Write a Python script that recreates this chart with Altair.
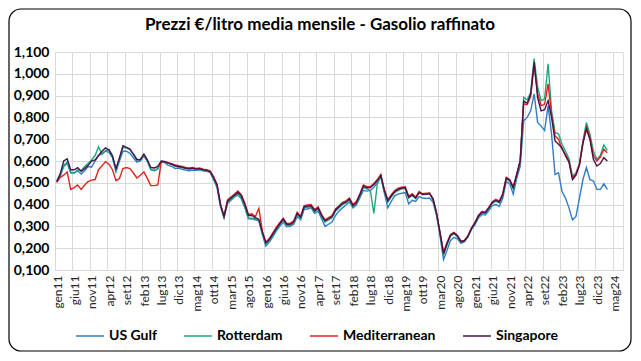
import altair as alt
import pandas as pd

# ---- data: monthly averages (EUR/litre), gen11 .. mar24 ----
us_gulf = [
    0.505,0.530,0.575,0.590,0.545,0.545,0.555,0.540,0.555,0.575,0.572,0.600,
    0.625,0.635,0.645,0.640,0.615,0.550,0.600,0.645,0.645,0.635,0.615,0.595,
    0.600,0.622,0.598,0.560,0.555,0.563,0.595,0.592,0.580,0.575,0.565,0.568,
    0.562,0.558,0.555,0.558,0.557,0.560,0.555,0.553,0.548,0.515,0.478,0.390,
    0.340,0.405,0.420,0.435,0.445,0.425,0.385,0.335,0.335,0.330,0.325,0.262,
    0.210,0.228,0.252,0.278,0.300,0.320,0.298,0.300,0.310,0.345,0.330,0.378,
    0.380,0.385,0.360,0.370,0.335,0.300,0.310,0.320,0.350,0.370,0.385,0.398,
    0.412,0.385,0.398,0.432,0.465,0.462,0.465,0.480,0.500,0.528,0.455,0.385,
    0.415,0.440,0.448,0.452,0.455,0.403,0.420,0.415,0.437,0.430,0.428,0.430,
    0.410,0.350,0.255,0.148,0.190,0.235,0.250,0.243,0.222,0.230,0.252,0.285,
    0.308,0.338,0.355,0.352,0.372,0.395,0.400,0.392,0.430,0.505,0.495,0.448,
    0.520,0.575,0.785,0.800,0.830,0.908,0.777,0.760,0.740,0.854,0.723,0.538,
    0.546,0.460,0.430,0.385,0.330,0.346,0.430,0.515,0.570,0.515,0.508,0.470,
    0.470,0.495,0.470,
]
rotterdam = [
    0.510,0.540,0.580,0.595,0.550,0.545,0.560,0.555,0.575,0.590,0.605,0.625,
    0.665,0.630,0.648,0.652,0.625,0.560,0.610,0.662,0.660,0.652,0.632,0.610,
    0.603,0.628,0.603,0.560,0.558,0.565,0.598,0.597,0.590,0.585,0.575,0.572,
    0.570,0.565,0.562,0.565,0.560,0.562,0.557,0.554,0.550,0.520,0.485,0.395,
    0.342,0.410,0.425,0.438,0.452,0.432,0.388,0.338,0.338,0.335,0.328,0.268,
    0.218,0.235,0.260,0.285,0.307,0.330,0.305,0.305,0.315,0.355,0.337,0.385,
    0.388,0.390,0.367,0.380,0.345,0.320,0.330,0.340,0.370,0.385,0.400,0.408,
    0.420,0.390,0.405,0.440,0.478,0.472,0.465,0.360,0.495,0.530,0.460,0.410,
    0.435,0.455,0.465,0.472,0.474,0.430,0.442,0.428,0.460,0.445,0.447,0.455,
    0.420,0.357,0.265,0.170,0.215,0.255,0.266,0.253,0.228,0.232,0.253,0.288,
    0.313,0.345,0.362,0.360,0.382,0.406,0.415,0.408,0.443,0.518,0.508,0.472,
    0.535,0.600,0.892,0.880,0.915,1.070,0.940,0.877,0.885,1.046,0.830,0.730,
    0.725,0.677,0.646,0.610,0.530,0.545,0.590,0.690,0.777,0.723,0.646,0.608,
    0.625,0.674,0.649,
]
mediterranean = [
    0.502,0.525,0.535,0.550,0.470,0.478,0.490,0.470,0.490,0.505,0.512,0.515,
    0.560,0.578,0.597,0.585,0.560,0.510,0.520,0.565,0.570,0.565,0.545,0.522,
    0.535,0.550,0.520,0.487,0.487,0.490,0.597,0.598,0.592,0.588,0.582,0.578,
    0.575,0.570,0.568,0.570,0.566,0.568,0.563,0.560,0.555,0.528,0.492,0.402,
    0.348,0.422,0.435,0.448,0.462,0.445,0.405,0.355,0.358,0.345,0.383,0.278,
    0.228,0.244,0.270,0.295,0.317,0.338,0.314,0.314,0.325,0.365,0.347,0.395,
    0.398,0.400,0.377,0.390,0.355,0.330,0.340,0.350,0.380,0.395,0.410,0.417,
    0.430,0.400,0.415,0.450,0.490,0.482,0.483,0.497,0.515,0.538,0.470,0.422,
    0.445,0.465,0.475,0.480,0.482,0.438,0.450,0.435,0.458,0.450,0.452,0.452,
    0.428,0.362,0.272,0.182,0.226,0.263,0.273,0.259,0.232,0.236,0.257,0.292,
    0.318,0.351,0.368,0.366,0.388,0.413,0.424,0.416,0.450,0.525,0.515,0.481,
    0.540,0.602,0.862,0.858,0.895,1.040,0.910,0.854,0.860,0.954,0.815,0.715,
    0.700,0.654,0.630,0.600,0.523,0.540,0.585,0.685,0.762,0.708,0.625,0.600,
    0.618,0.654,0.638,
]
singapore = [
    0.505,0.540,0.600,0.610,0.560,0.560,0.570,0.553,0.565,0.580,0.600,0.605,
    0.625,0.645,0.660,0.650,0.622,0.565,0.615,0.670,0.662,0.655,0.630,0.605,
    0.607,0.632,0.605,0.570,0.568,0.575,0.600,0.597,0.590,0.585,0.578,0.575,
    0.572,0.567,0.565,0.567,0.563,0.565,0.560,0.557,0.552,0.525,0.490,0.400,
    0.345,0.415,0.430,0.443,0.457,0.440,0.400,0.350,0.350,0.340,0.333,0.275,
    0.225,0.240,0.265,0.290,0.312,0.334,0.310,0.310,0.320,0.360,0.342,0.390,
    0.393,0.395,0.372,0.385,0.350,0.326,0.335,0.345,0.375,0.390,0.405,0.412,
    0.426,0.395,0.410,0.445,0.485,0.477,0.478,0.492,0.510,0.534,0.465,0.418,
    0.440,0.460,0.470,0.476,0.478,0.434,0.445,0.430,0.455,0.447,0.448,0.449,
    0.425,0.360,0.270,0.175,0.222,0.260,0.270,0.256,0.230,0.234,0.255,0.290,
    0.315,0.348,0.365,0.363,0.385,0.410,0.420,0.412,0.447,0.522,0.512,0.478,
    0.538,0.600,0.875,0.865,0.905,1.054,0.890,0.830,0.835,0.877,0.800,0.692,
    0.677,0.660,0.623,0.595,0.515,0.535,0.580,0.680,0.746,0.700,0.608,0.577,
    0.588,0.615,0.600,
]

series_names = ["US Gulf", "Rotterdam", "Mediterranean", "Singapore"]
series_colors = ["#2E7DC6", "#1BAA82", "#E3241E", "#4A1248"]
tick_labels = ["gen11","giu11","nov11","apr12","set12","feb13","lug13","dic13",
               "mag14","ott14","mar15","ago15","gen16","giu16","nov16","apr17",
               "set17","feb18","lug18","dic18","mag19","ott19","mar20","ago20",
               "gen21","giu21","nov21","apr22","set22","feb23","lug23","dic23","mag24"]
tick_step = 5
n_categories = 163
y_ticks = [0.1, 0.2, 0.3, 0.4, 0.5, 0.6, 0.7, 0.8, 0.9, 1.0, 1.1]
title_text = "Prezzi €/litro media mensile - Gasolio raffinato"

rows = []
for name, vals in zip(series_names, [us_gulf, rotterdam, mediterranean, singapore]):
    for i, v in enumerate(vals):
        rows.append({"idx": i, "serie": name, "valore": v})
df = pd.DataFrame(rows)

label_arr = "[" + ",".join("'" + t + "'" for t in tick_labels) + "]"
x_label_expr = label_arr + "[round(datum.value/" + str(tick_step) + ")]"
x_tick_values = [i * tick_step for i in range(len(tick_labels))]

FONT = "Lato"

lines = alt.Chart(df).transform_calculate(
    pos="datum.idx + 0.5"
).mark_line(strokeWidth=1.4).encode(
    x=alt.X("pos:Q",
            scale=alt.Scale(domain=[0, n_categories], nice=False, zero=False),
            axis=alt.Axis(values=x_tick_values, labelExpr=x_label_expr, title=None,
                          labelAngle=270, labelFontSize=12, labelFont=FONT,
                          labelColor="#262626", labelPadding=5, labelOffset=2,
                          ticks=False, domainColor="#d9d9d9", gridColor="#d9d9d9",
                          labelOverlap=False, labelFlush=False)),
    y=alt.Y("valore:Q",
            scale=alt.Scale(domain=[0.1, 1.1], nice=False, zero=False),
            axis=alt.Axis(values=y_ticks,
                          labelExpr="replace(format(datum.value, '.3f'), '.', ',')",
                          title=None, labelFontSize=14, labelFontWeight="bold",
                          labelFont=FONT, labelColor="black", labelPadding=6,
                          ticks=False, domain=False, gridColor="#d9d9d9")),
    color=alt.Color("serie:N",
                    scale=alt.Scale(domain=series_names, range=series_colors),
                    legend=alt.Legend(orient="none", legendX=20, legendY=269,
                                      direction="horizontal", title=None,
                                      symbolType="stroke", symbolSize=784,
                                      symbolStrokeWidth=1.5, labelFont=FONT,
                                      labelFontSize=14, labelFontWeight="bold",
                                      labelColor="black", columnPadding=24,
                                      labelOffset=4)),
    order=alt.Order("idx:Q"),
)

border = alt.Chart(alt.Data(values=[{}])).mark_rect(
    filled=False, stroke="black", strokeWidth=1.2, cornerRadius=12
).encode(
    x=alt.value(-46), x2=alt.value(576), y=alt.value(-43), y2=alt.value(299)
)

chart = alt.layer(lines, border).properties(
    width=568, height=218,
    padding={"left": 47, "top": 44, "right": 10, "bottom": 83},
    autosize=alt.AutoSizeParams(type="none"),
    title=alt.TitleParams(title_text, font=FONT, fontSize=17, fontWeight="bold",
                          color="black", anchor="middle", offset=-39, dx=-19,
                          baseline="alphabetic"),
).configure_view(stroke="#d9d9d9").configure(background="white")

chart.save("out.html", embed_options={"renderer": "svg", "actions": False})
